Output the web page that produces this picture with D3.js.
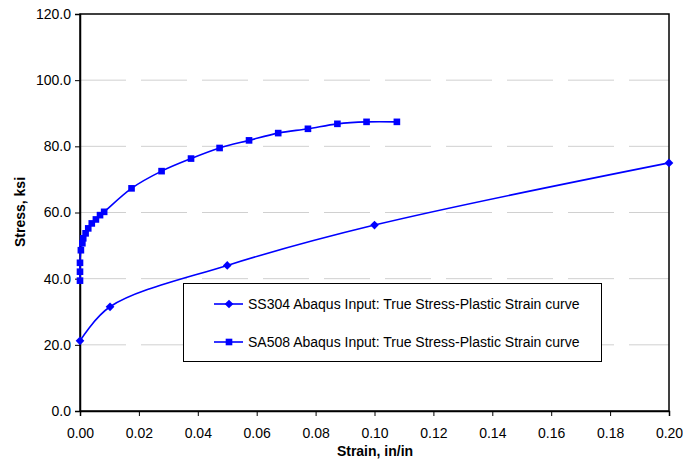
<!DOCTYPE html>
<html lang="en">
<head>
  <meta charset="UTF-8">
  <title>Stress vs Strain</title>
  <script src="https://d3js.org/d3.v7.min.js"></script>
  <style>
    body { margin: 0; background: #fff; }
    text { font-family: "Liberation Sans", Arial, sans-serif; fill: #000; }
    .grid line { stroke: #d0d0d0; stroke-dasharray: 46 15; }
    .axis path, .axis line { stroke: #000; }
    .axis text { font-size: 14px; }
    .title { font-size: 14px; font-weight: bold; }
    .legend text { font-size: 14px; }
  </style>
</head>
<body>
  <div id="chart"></div>
  <script>
    // SS304 true stress - plastic strain
    const ss304Strain = [0, 0.0102, 0.05, 0.10, 0.20];
    const ss304Stress = [21.2, 31.5, 44.0, 56.2, 75.0];

    // SA508 true stress - plastic strain
    const sa508Strain = [0, 0, 0, 0.0003, 0.0008, 0.0011, 0.0019, 0.0028, 0.004, 0.0054, 0.0068, 0.0082,
                         0.0175, 0.0277, 0.0377, 0.0474, 0.0574, 0.0673, 0.0774, 0.0874, 0.0973, 0.1076];
    const sa508Stress = [39.4, 42.1, 44.8, 48.6, 50.7, 52.2, 53.7, 55.2, 56.7, 57.9, 59.2, 60.2,
                         67.3, 72.5, 76.3, 79.5, 81.8, 84.0, 85.3, 86.8, 87.4, 87.4];

    const xTicks = [0, 0.02, 0.04, 0.06, 0.08, 0.10, 0.12, 0.14, 0.16, 0.18, 0.20];
    const yTicks = [0, 20, 40, 60, 80, 100, 120];
    const seriesNames = [
      "SS304 Abaqus Input: True Stress-Plastic Strain curve",
      "SA508 Abaqus Input: True Stress-Plastic Strain curve"
    ];

    const W = 683, H = 470;
    const plotL = 80, plotR = 669, plotT = 14, plotB = 411;

    const svg = d3.select("#chart").append("svg")
      .attr("width", W).attr("height", H);

    const x = d3.scaleLinear().domain([0, 0.2]).range([plotL, plotR]);
    const y = d3.scaleLinear().domain([0, 120]).range([plotB, plotT]);

    // gridlines
    svg.append("g").attr("class", "grid")
      .selectAll("line")
      .data(yTicks.filter(d => d > 0 && d < 120))
      .enter().append("line")
      .attr("x1", plotL).attr("x2", plotR)
      .attr("y1", d => y(d)).attr("y2", d => y(d));

    // frame
    svg.append("rect")
      .attr("x", plotL).attr("y", plotT)
      .attr("width", plotR - plotL).attr("height", plotB - plotT)
      .attr("fill", "none").attr("stroke", "#000").attr("stroke-width", 1.5);

    svg.append("g").attr("class", "axis")
      .attr("transform", `translate(0,${plotB})`)
      .call(d3.axisBottom(x).tickValues(xTicks).tickFormat(d3.format(".2f")).tickSize(5).tickPadding(12))
      .call(g => g.select(".domain").attr("stroke-width", 1.5));

    svg.append("g").attr("class", "axis")
      .attr("transform", `translate(${plotL},0)`)
      .call(d3.axisLeft(y).tickValues(yTicks).tickFormat(d3.format(".1f")).tickSize(5).tickPadding(4))
      .call(g => g.select(".domain").attr("stroke-width", 1.5));

    // axis titles
    svg.append("text").attr("class", "title")
      .attr("x", 375).attr("y", 456).attr("text-anchor", "middle")
      .text("Strain, in/in");
    svg.append("text").attr("class", "title")
      .attr("transform", "translate(25,212) rotate(-90)")
      .attr("text-anchor", "middle")
      .text("Stress, ksi");

    const blue = "#0000ff";
    const line = d3.line().x(d => x(d[0])).y(d => y(d[1])).curve(d3.curveCatmullRom.alpha(0.5));

    const ss304 = ss304Strain.map((s, i) => [s, ss304Stress[i]]);
    const sa508 = sa508Strain.map((s, i) => [s, sa508Stress[i]]);

    svg.append("path").datum(ss304)
      .attr("d", line).attr("fill", "none").attr("stroke", blue).attr("stroke-width", 1.6);
    svg.append("path").datum(sa508)
      .attr("d", line).attr("fill", "none").attr("stroke", blue).attr("stroke-width", 1.6);

    const diamond = d3.symbol().type(d3.symbolDiamond2).size(48);
    const square = d3.symbol().type(d3.symbolSquare).size(44);

    svg.append("g").selectAll("path")
      .data(ss304).enter().append("path")
      .attr("d", diamond)
      .attr("transform", d => `translate(${x(d[0])},${y(d[1])})`)
      .attr("fill", blue);

    svg.append("g").selectAll("path")
      .data(sa508).enter().append("path")
      .attr("d", square)
      .attr("transform", d => `translate(${x(d[0])},${y(d[1])})`)
      .attr("fill", blue);

    // legend
    const lg = svg.append("g").attr("class", "legend");
    lg.append("rect")
      .attr("x", 183.5).attr("y", 283.5).attr("width", 418).attr("height", 78)
      .attr("fill", "#fff").attr("stroke", "#000").attr("stroke-width", 1);
    seriesNames.forEach((name, i) => {
      const ly = 304 + i * 38;
      lg.append("line").attr("x1", 214).attr("x2", 243).attr("y1", ly).attr("y2", ly)
        .attr("stroke", blue).attr("stroke-width", 1.6);
      lg.append("path").attr("d", i === 0 ? diamond : square)
        .attr("transform", `translate(229,${ly})`).attr("fill", blue);
      lg.append("text").attr("x", 248).attr("y", ly).attr("dy", "0.35em").text(name);
    });
  </script>
</body>
</html>
